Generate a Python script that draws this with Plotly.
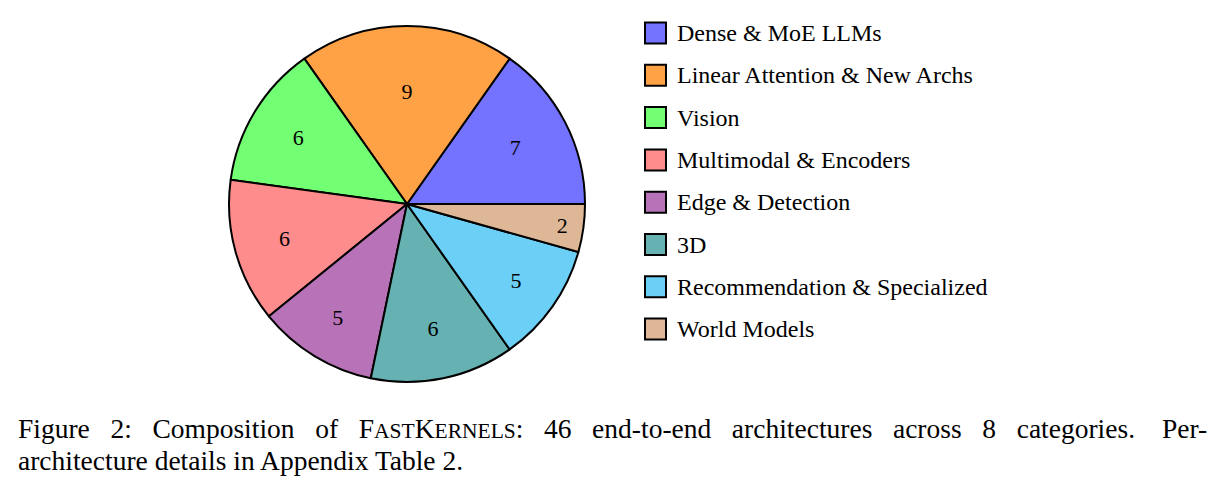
import plotly.graph_objects as go

W, H = 1223, 491

categories = [
    "Dense & MoE LLMs",
    "Linear Attention & New Archs",
    "Vision",
    "Multimodal & Encoders",
    "Edge & Detection",
    "3D",
    "Recommendation & Specialized",
    "World Models",
]
counts = [7, 9, 6, 6, 5, 6, 5, 2]
colors = ["#7373ff", "#ffa145", "#73ff73", "#ff8c8c",
          "#b873b8", "#66b2b2", "#6ccff6", "#deb896"]

SERIF = "Liberation Serif, Times New Roman, serif"

# pie placement in pixels
cx, cy, r = 407, 204, 178

# plotly's counterclockwise mode ends the first slice at `rotation`,
# so shift it to make the first slice start at 3 o'clock
first_share = 360 * counts[0] / sum(counts)

fig = go.Figure()
fig.add_trace(go.Pie(
    labels=categories,
    values=counts,
    sort=False,
    direction="counterclockwise",
    rotation=90 - first_share,
    marker=dict(colors=colors, line=dict(color="black", width=2)),
    textinfo="value",
    textposition="inside",
    insidetextorientation="horizontal",
    textfont=dict(family=SERIF, size=22, color="black"),
    showlegend=False,
    hoverinfo="label+value",
    domain=dict(x=[(cx - r) / W, (cx + r) / W],
                y=[1 - (cy + r) / H, 1 - (cy - r) / H]),
))

# hand-drawn legend, so the row spacing matches
shapes = []
annotations = []
for i, (name, col) in enumerate(zip(categories, colors)):
    yc = 33 + i * 42.3
    shapes.append(dict(
        type="rect", xref="paper", yref="paper",
        x0=645 / W, x1=666 / W,
        y0=1 - (yc + 10.5) / H, y1=1 - (yc - 10.5) / H,
        fillcolor=col, line=dict(color="black", width=2),
    ))
    annotations.append(dict(
        text=name, xref="paper", yref="paper",
        x=675 / W, y=1 - yc / H, xanchor="left", yanchor="middle",
        showarrow=False, font=dict(family=SERIF, size=24, color="black"),
    ))

# caption, first line stretched to mimic LaTeX justification
cap_size = 27.5
sc = 21.5  # small caps size
gap = " \u2002"
words1 = ["Figure", "2:", "Composition", "of",
          "F<span style='font-size:%spx'>AST</span>K<span style='font-size:%spx'>ERNELS</span>:" % (sc, sc),
          "46", "end-to-end", "architectures", "across", "8", "categories."]
caption1 = gap.join(words1)
cap_font = dict(family=SERIF, size=cap_size, color="black")
annotations.append(dict(
    text=caption1, xref="paper", yref="paper",
    x=16 / W, y=1 - 428 / H, xanchor="left", yanchor="middle",
    showarrow=False, font=cap_font,
))
annotations.append(dict(
    text="Per-", xref="paper", yref="paper",
    x=1209 / W, y=1 - 428 / H, xanchor="right", yanchor="middle",
    showarrow=False, font=cap_font,
))
annotations.append(dict(
    text="architecture details in Appendix Table 2.", xref="paper", yref="paper",
    x=16 / W, y=1 - 460 / H, xanchor="left", yanchor="middle",
    showarrow=False, font=cap_font,
))

fig.update_layout(
    width=W, height=H,
    margin=dict(l=0, r=0, t=0, b=0),
    paper_bgcolor="white",
    plot_bgcolor="white",
    shapes=shapes,
    annotations=annotations,
)

fig.write_html("out.html", config={"displayModeBar": False},
               post_script="document.body.style.margin='0';")
